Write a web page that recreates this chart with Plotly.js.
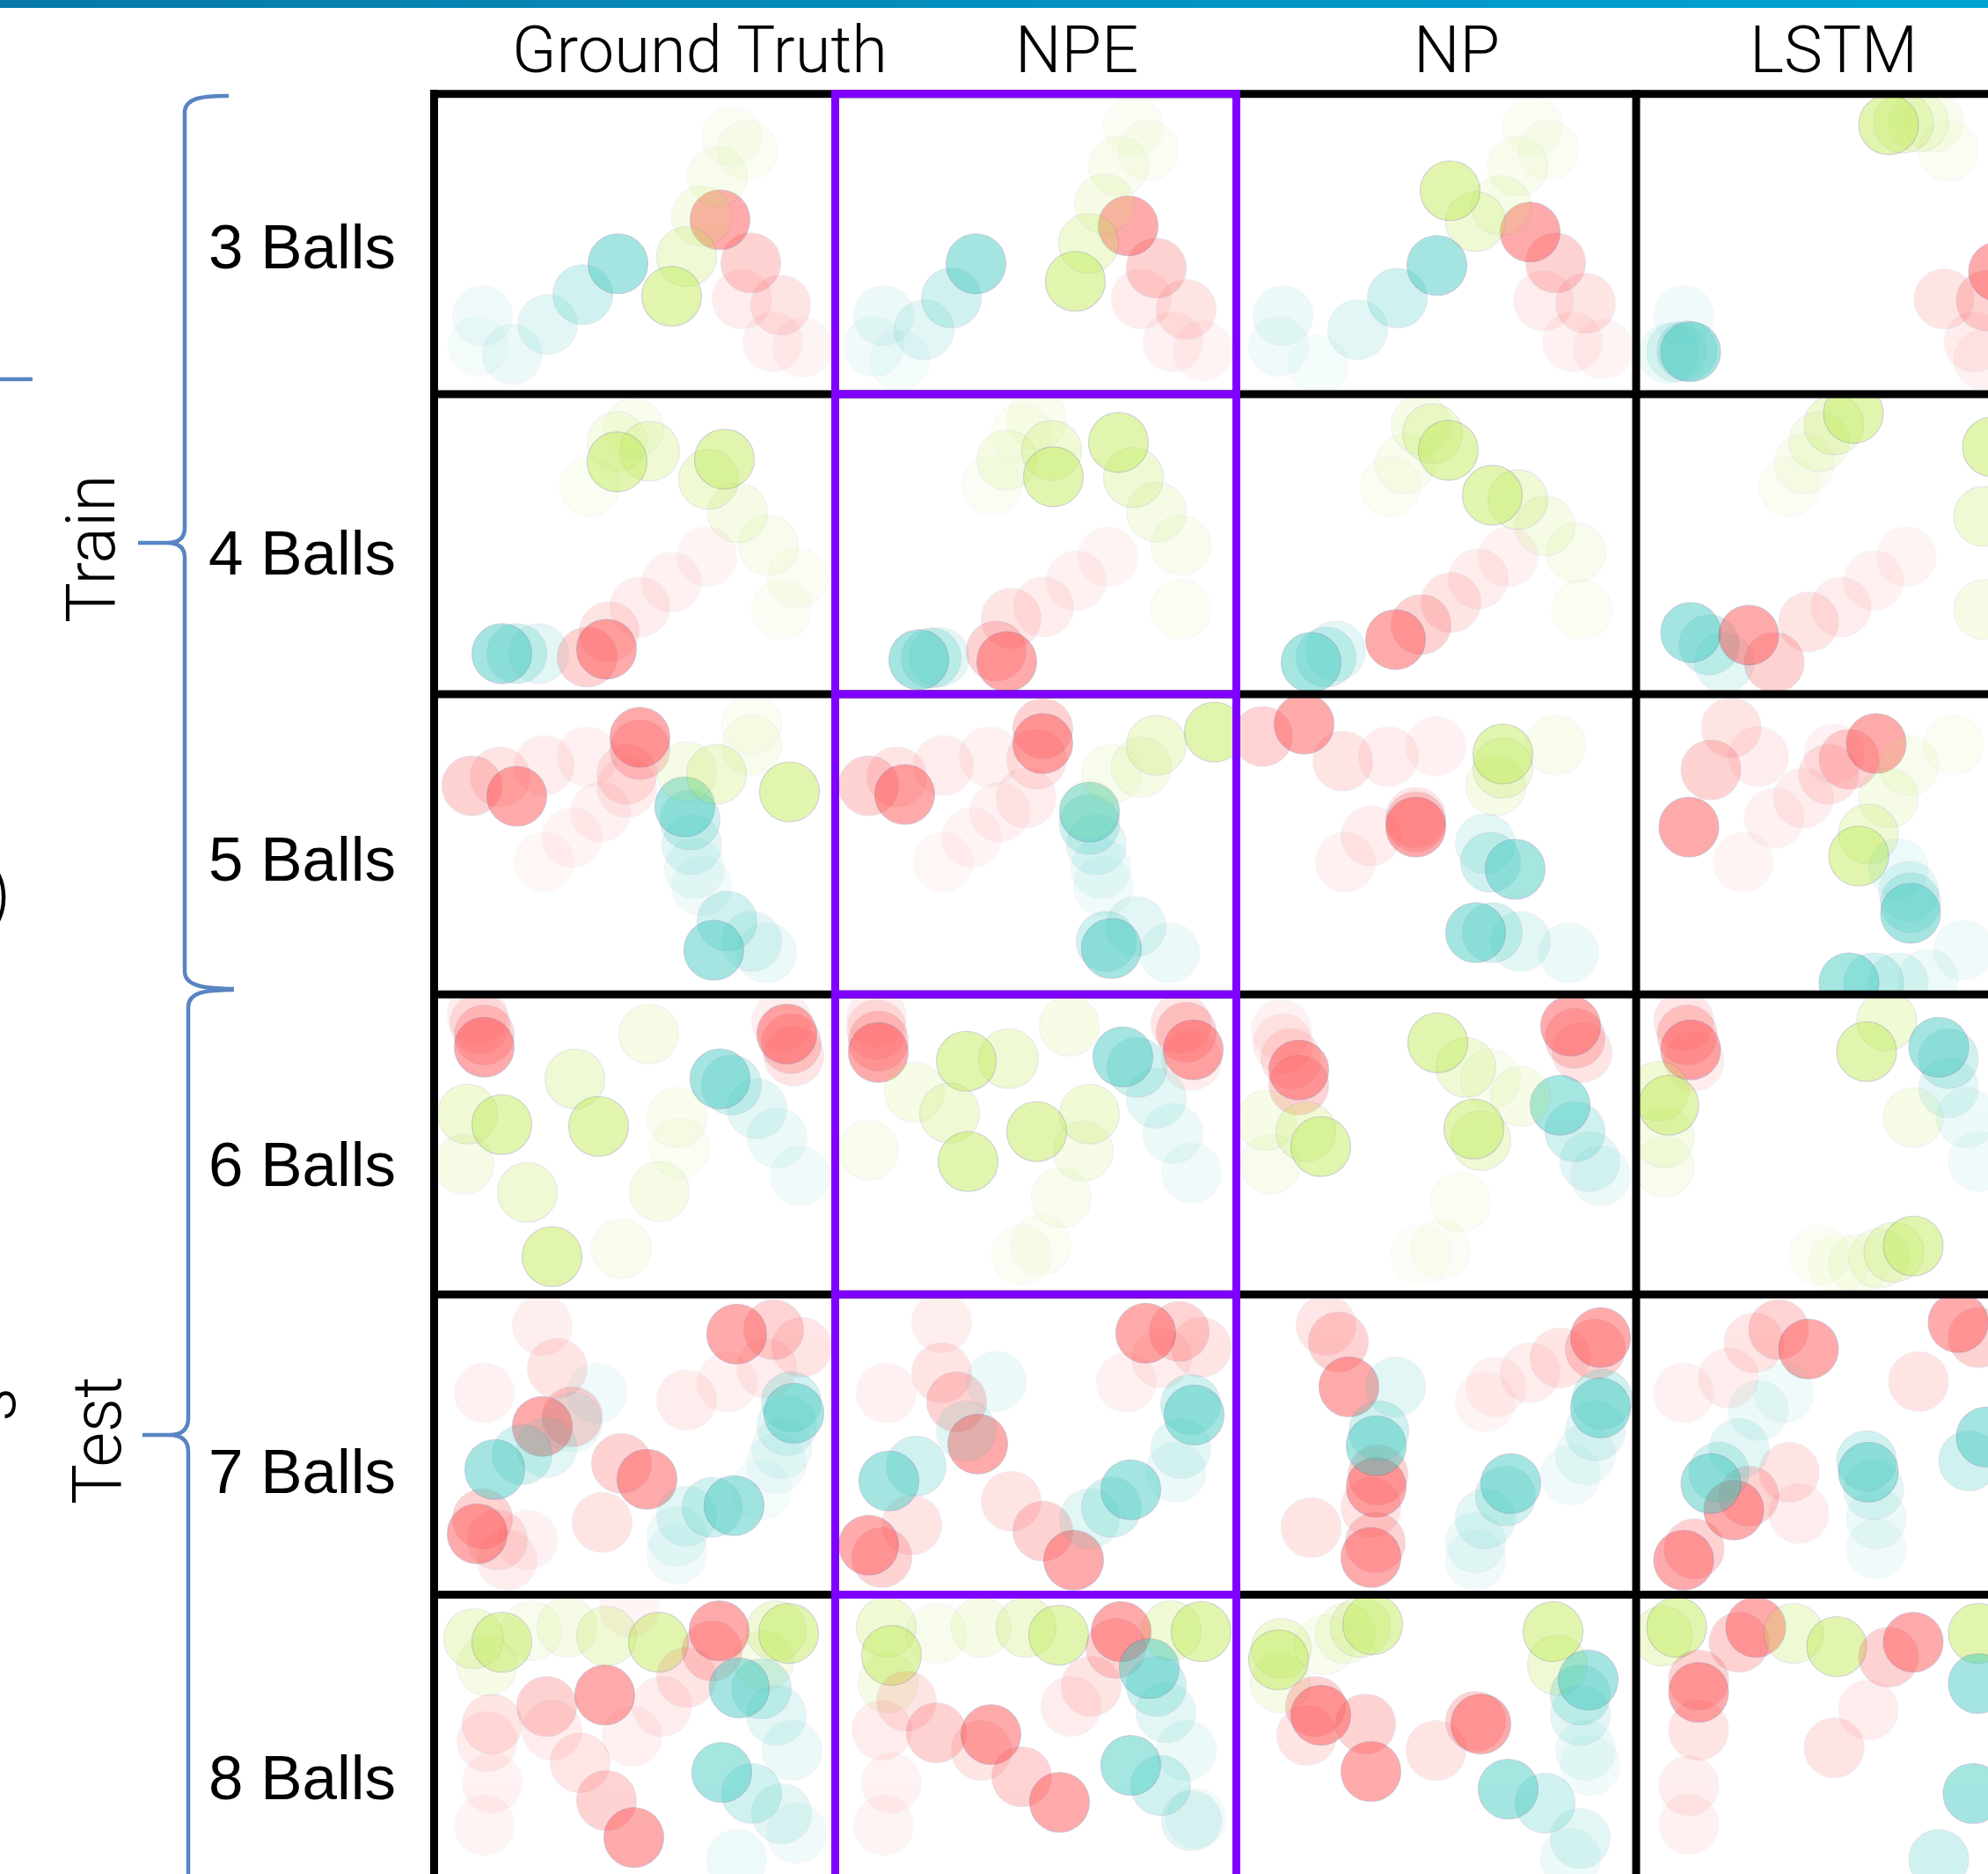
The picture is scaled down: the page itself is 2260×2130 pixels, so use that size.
<!DOCTYPE html>
<html>
<head>
<meta charset="utf-8">
<script src="https://cdn.plot.ly/plotly-3.0.1.min.js"></script>
<style>html,body{margin:0;padding:0;background:#fff;overflow:hidden}</style>
</head>
<body>
<div id="chart" style="width:2260px;height:2130px"></div>
<script>
// ---------- labels ----------
const methods = ['Ground Truth', 'NPE', 'NP', 'LSTM'];
const ballCounts = ['3 Balls', '4 Balls', '5 Balls', '6 Balls', '7 Balls', '8 Balls'];
const splits = ['Train', 'Test'];

// ---------- trajectories ----------
// Each trail: [ball type, x positions, y positions] in cell pixels, earliest step first.
// ball type: r = red, t = teal, g = green
const gt3 = [
  ['t', [50, 55, 89, 129, 169, 209], [287, 252, 296, 262, 228, 193]],
  ['r', [419, 385, 350, 394, 360, 325], [288, 282, 233, 240, 192, 143]],
  ['g', [338, 356, 322, 304, 287, 270], [48, 64, 94, 139, 185, 230]]
];
const npe3 = [
  ['t', [73, 44, 55, 101, 132, 160], [303, 287, 252, 268, 232, 193]],
  ['r', [418, 384, 348, 399, 365, 333], [292, 282, 233, 245, 198, 150]],
  ['g', [339, 356, 322, 306, 288, 273], [37, 64, 82, 125, 170, 213]]
];
const np3 = [
  ['t', [93, 48, 53, 138, 183, 228], [308, 287, 252, 268, 232, 195]],
  ['r', [417, 382, 349, 397, 363, 334], [290, 282, 235, 238, 192, 157]],
  ['g', [337, 355, 320, 301, 272, 243], [37, 64, 82, 127, 145, 110]]
];
const lstm3 = [
  ['t', [54, 37, 46, 58, 62], [252, 295, 293, 292, 293]],
  ['g', [355, 338, 321, 304, 287], [65, 32, 32, 33, 35]],
  ['r', [395, 384, 350, 398, 412], [302, 282, 233, 235, 202]]
];

const gt4 = [
  ['t', [119, 94, 77], [295, 295, 295]],
  ['r', [310, 270, 234, 199, 174, 196], [185, 214, 242, 270, 299, 290]],
  ['g', [177, 227, 208, 245, 208], [105, 39, 54, 65, 77]],
  ['g', [395, 413, 380, 345, 312, 330], [245, 209, 172, 135, 97, 74]]
];
const npe4 = [
  ['t', [118, 109, 95], [299, 300, 302]],
  ['r', [310, 274, 237, 200, 183, 195], [185, 212, 242, 255, 292, 304]],
  ['g', [178, 212, 229, 195, 246, 248], [104, 45, 29, 75, 64, 94]],
  ['g', [393, 393, 365, 339, 322], [245, 172, 134, 95, 55]]
];
const np4 = [
  ['t', [113, 102, 85], [292, 299, 305]],
  ['r', [309, 275, 244, 210, 181], [185, 210, 237, 262, 279]],
  ['g', [175, 192, 210, 223, 241], [105, 79, 35, 45, 64]],
  ['g', [393, 386, 351, 320, 291], [245, 180, 150, 120, 115]]
];
const lstm4 = [
  ['t', [100, 83, 62], [305, 285, 271]],
  ['r', [307, 270, 233, 196, 157, 128], [185, 212, 242, 259, 305, 274]],
  ['g', [174, 191, 208, 225, 247], [105, 79, 54, 35, 22]],
  ['g', [395, 395, 405], [245, 139, 60]]
];

const gt5 = [
  ['r', [174, 125, 75, 43, 94], [71, 81, 94, 104, 116]],
  ['r', [125, 157, 189, 219, 219, 234, 234], [191, 163, 134, 106, 91, 63, 49]],
  ['t', [304, 296, 293, 291, 285], [218, 198, 171, 143, 128]],
  ['t', [378, 361, 333, 318], [294, 281, 258, 291]],
  ['g', [361, 361, 287, 321, 404], [34, 58, 88, 91, 111]]
];
const npe5 = [
  ['r', [175, 123, 70, 38, 79], [71, 81, 94, 104, 114]],
  ['r', [123, 155, 187, 217, 229, 236, 236], [191, 163, 134, 118, 74, 39, 56]],
  ['t', [305, 302, 297, 289, 289], [218, 198, 171, 148, 134]],
  ['t', [380, 342, 308, 314], [294, 264, 281, 289]],
  ['g', [289, 314, 348, 365, 431], [131, 91, 83, 58, 43]]
];
const np5 = [
  ['r', [227, 173, 121, 30, 77], [59, 71, 76, 48, 34]],
  ['r', [124, 153, 204, 204, 204], [191, 161, 140, 145, 151]],
  ['t', [283, 289, 317], [170, 191, 199]],
  ['t', [378, 323, 291, 272], [294, 281, 271, 271]],
  ['g', [363, 295, 303, 303], [58, 104, 84, 68]]
];
const lstm5 = [
  ['r', [122, 157, 190, 219, 242, 273], [191, 141, 118, 91, 74, 56]],
  ['r', [225, 139, 108, 85, 60], [68, 71, 38, 86, 151]],
  ['g', [361, 310, 287, 264, 253], [58, 81, 118, 159, 184]],
  ['t', [298, 310, 312, 312], [198, 224, 237, 249]],
  ['t', [372, 332, 298, 270, 242], [291, 324, 328, 328, 328]]
];

const gt6 = [
  ['r', [49, 52, 57, 57], [23, 33, 46, 60]],
  ['r', [395, 409, 406, 401], [31, 70, 56, 45]],
  ['t', [416, 390, 367, 338, 325], [206, 163, 130, 103, 96]],
  ['g', [34, 38, 77], [193, 136, 148]],
  ['g', [279, 276, 244, 160, 187], [175, 140, 45, 96, 150]],
  ['g', [213, 256, 106, 134], [289, 224, 225, 298]]
];
const npe6 = [
  ['r', [47, 47, 49, 49], [26, 40, 53, 66]],
  ['r', [405, 393, 399, 407], [75, 33, 43, 63]],
  ['t', [405, 384, 365, 343, 327], [203, 158, 118, 83, 71]],
  ['g', [266, 197, 149], [36, 73, 76]],
  ['g', [38, 90, 130, 151], [177, 111, 135, 190]],
  ['g', [212, 234, 257, 282, 289, 229], [296, 285, 231, 178, 136, 156]]
];
const np6 = [
  ['r', [51, 53, 62, 71, 71], [40, 56, 73, 103, 86]],
  ['r', [393, 385, 380], [66, 50, 36]],
  ['t', [414, 402, 385, 368], [206, 190, 156, 126]],
  ['g', [39, 34, 79, 96], [193, 143, 156, 173]],
  ['g', [261, 229], [83, 55]],
  ['g', [210, 232, 255, 289, 323, 278, 270], [296, 290, 236, 96, 116, 166, 153]]
];
const lstm6 = [
  ['r', [66, 54, 58, 62], [76, 30, 46, 63]],
  ['g', [32, 32, 26, 37], [196, 163, 110, 126]],
  ['g', [315, 285, 262], [140, 30, 65]],
  ['t', [389, 375, 355, 355, 344], [190, 140, 106, 73, 60]],
  ['g', [208, 230, 253, 276, 293, 315], [296, 306, 306, 300, 293, 286]]
];

const gt7 = [
  ['r', [333, 378, 418, 386, 344], [100, 84, 60, 40, 45]],
  ['r', [57, 123, 140, 157, 123], [112, 35, 84, 139, 150]],
  ['r', [287, 191, 213, 242], [120, 259, 192, 210]],
  ['r', [106, 83, 72, 55, 49], [279, 302, 279, 255, 272]],
  ['t', [372, 389, 395, 401, 406, 409], [222, 192, 175, 149, 122, 135]],
  ['t', [185, 157, 128, 100, 69], [112, 145, 174, 182, 199]],
  ['t', [276, 276, 287, 316, 341], [295, 275, 252, 242, 240]]
];
const npe7 = [
  ['r', [331, 371, 416, 391, 353], [100, 72, 60, 42, 44]],
  ['r', [58, 121, 121, 138, 162], [112, 32, 89, 122, 170]],
  ['r', [200, 236, 271], [235, 269, 302]],
  ['r', [87, 53, 38], [262, 299, 285]],
  ['t', [387, 393, 404, 408], [202, 175, 125, 137]],
  ['t', [183, 149, 92, 61], [99, 155, 195, 212]],
  ['t', [289, 314, 336], [255, 242, 222]]
];
const np7 = [
  ['r', [283, 295, 334, 368, 408, 414], [122, 105, 89, 72, 62, 49]],
  ['r', [102, 116, 128], [35, 54, 105]],
  ['r', [153, 161, 159], [242, 205, 219]],
  ['r', [85, 158, 153], [265, 282, 299]],
  ['t', [380, 397, 408, 416, 414], [205, 182, 155, 119, 129]],
  ['t', [181, 162, 159], [105, 155, 172]],
  ['t', [272, 272, 283, 306, 312], [302, 282, 255, 229, 215]]
];
const lstm7 = [
  ['r', [54, 105, 134, 162, 196], [112, 95, 55, 40, 62]],
  ['r', [321, 389, 366], [99, 49, 32]],
  ['r', [185, 174, 128, 111], [249, 202, 229, 245]],
  ['r', [66, 54], [289, 302]],
  ['t', [168, 139, 117, 94, 85], [112, 132, 175, 202, 215]],
  ['t', [273, 273, 270, 262, 264], [289, 255, 222, 189, 202]],
  ['t', [378, 398], [189, 162]]
];

const gt8 = [
  ['g', [60, 45, 77], [81, 50, 54]],
  ['g', [111, 151, 196, 255], [41, 37, 47, 54]],
  ['g', [375, 389, 403], [75, 41, 44]],
  ['r', [222, 225, 259, 287, 316, 324], [14, 161, 127, 94, 64, 41]],
  ['r', [57, 66, 60, 66, 128, 194], [262, 214, 167, 147, 127, 114]],
  ['r', [134, 166, 196, 227], [154, 191, 234, 276]],
  ['t', [412, 407, 389, 372, 347], [271, 177, 137, 107, 106]],
  ['t', [344, 395, 361, 327], [301, 249, 226, 202]]
];
const npe8 = [
  ['g', [60, 58, 64], [100, 37, 69]],
  ['g', [115, 166, 217, 254], [44, 37, 37, 46]],
  ['g', [382, 416], [41, 42]],
  ['r', [268, 291, 319, 325], [127, 104, 61, 42]],
  ['t', [410, 399, 376, 365, 357], [254, 177, 134, 104, 84]],
  ['r', [55, 64, 53, 81, 115, 177], [262, 214, 154, 121, 157, 159]],
  ['r', [166, 212, 255], [177, 207, 236]],
  ['t', [405, 370, 336], [257, 217, 194]]
];
const np8 = [
  ['g', [50, 51, 48], [100, 61, 74]],
  ['g', [100, 124, 141, 155], [57, 44, 37, 34]],
  ['g', [365, 360], [80, 42]],
  ['r', [80, 90, 96], [160, 127, 137]],
  ['r', [147, 153], [147, 201]],
  ['r', [227, 272, 278], [177, 144, 147]],
  ['t', [402, 397, 391, 391, 400], [194, 177, 137, 114, 97]],
  ['t', [380, 391, 351, 309], [300, 277, 237, 221]]
];
const lstm8 = [
  ['g', [30, 46], [47, 37]],
  ['r', [117, 136], [54, 37]],
  ['g', [179, 228], [44, 59]],
  ['r', [60, 60, 71, 71, 71], [261, 217, 154, 97, 111]],
  ['r', [264, 225, 287, 315], [131, 174, 71, 54]],
  ['g', [389], [44]],
  ['t', [389], [101]],
  ['t', [344, 383], [301, 226]]
];

const grid = [
  [gt3, npe3, np3, lstm3],
  [gt4, npe4, np4, lstm4],
  [gt5, npe5, np5, lstm5],
  [gt6, npe6, np6, lstm6],
  [gt7, npe7, np7, lstm7],
  [gt8, npe8, np8, lstm8]
];

// ---------- page geometry ----------
const W = 2260, H = 2130;
const colX = [493.5, 949.5, 1405.5, 1860];           // cell border centres (x)
const rowY = [106.7, 447.9, 789, 1130.2, 1471.3, 1812.5]; // cell border centres (y)
const cellW = 456, cellH = 341.2;
const px = x => x / W;
const py = y => 1 - y / H;
const P = (x, y) => `${px(x)},${py(y)}`;

const ballColor = { r: 'rgb(255,72,72)', t: 'rgb(60,200,190)', g: 'rgb(190,234,80)' };
// opacity by age: latest step first
const stepAlpha = [0.46, 0.24, 0.14, 0.095, 0.07, 0.055, 0.045, 0.04];

const traces = [];
const layout = {
  width: W, height: H,
  margin: { l: 0, r: 0, t: 0, b: 0, pad: 0 },
  paper_bgcolor: '#ffffff', plot_bgcolor: 'rgba(0,0,0,0)',
  showlegend: false, hovermode: false,
  shapes: [], annotations: []
};

grid.forEach((row, r) => row.forEach((trails, c) => {
  const k = r * 4 + c + 1;
  const sx = k > 1 ? String(k) : '';
  const x0 = colX[c], x1 = Math.min(colX[c] + cellW, W);
  const y0 = rowY[r], y1 = Math.min(rowY[r] + cellH, H);
  layout['xaxis' + sx] = { domain: [px(x0), px(x1)], range: [0, x1 - x0], visible: false, fixedrange: true, anchor: 'y' + sx };
  layout['yaxis' + sx] = { domain: [py(y1), py(y0)], range: [y1 - y0, 0], visible: false, fixedrange: true, anchor: 'x' + sx };
  trails.forEach(([kind, xs, ys]) => {
    const n = xs.length;
    traces.push({
      type: 'scatter', mode: 'markers', x: xs, y: ys,
      xaxis: 'x' + sx, yaxis: 'y' + sx,
      cliponaxis: true, hoverinfo: 'skip', showlegend: false,
      marker: {
        size: 68, color: ballColor[kind],
        opacity: xs.map((_, i) => stepAlpha[Math.min(n - 1 - i, stepAlpha.length - 1)]),
        line: { width: 1.1, color: 'rgba(80,80,140,0.55)' }
      }
    });
  });
}));

// ---------- decorations ----------
const shapes = layout.shapes;
// gradient strip along the top edge
const barSteps = 60;
for (let i = 0; i < barSteps; i++) {
  const t = i / (barSteps - 1);
  const cr = Math.round(8 + (0 - 8) * t), cg = Math.round(122 + (165 - 122) * t), cb = Math.round(168 + (212 - 168) * t);
  shapes.push({ type: 'rect', xref: 'paper', yref: 'paper', layer: 'above',
    x0: px(i * W / barSteps), x1: px(Math.min((i + 1) * W / barSteps + 1, W)), y0: py(9), y1: py(0),
    fillcolor: `rgb(${cr},${cg},${cb})`, line: { width: 0 } });
}
// cell borders
rowY.forEach(y => shapes.push({ type: 'line', xref: 'paper', yref: 'paper', layer: 'above',
  x0: px(489), x1: px(W), y0: py(y), y1: py(y), line: { color: '#000', width: 9 } }));
colX.forEach(x => shapes.push({ type: 'line', xref: 'paper', yref: 'paper', layer: 'above',
  x0: px(x), x1: px(x), y0: py(rowY[0] - 4.5), y1: py(H), line: { color: '#000', width: 9 } }));
// highlighted NPE column
const hl = '#8000ff';
[colX[1], colX[2]].forEach(x => shapes.push({ type: 'line', xref: 'paper', yref: 'paper', layer: 'above',
  x0: px(x), x1: px(x), y0: py(rowY[0] - 4.5), y1: py(H), line: { color: hl, width: 9 } }));
rowY.forEach(y => shapes.push({ type: 'line', xref: 'paper', yref: 'paper', layer: 'above',
  x0: px(colX[1] - 4.5), x1: px(colX[2] + 4.5), y0: py(y), y1: py(y), line: { color: hl, width: 9 } }));

// braces
const braceColor = 'rgb(88,132,194)';
const trainBrace = `M${P(260,109)} C${P(234,109)} ${P(210,110)} ${P(210,128)} L${P(210,600)} C${P(210,612)} ${P(203,617)} ${P(190,617)} L${P(157,617)} M${P(190,617)} C${P(203,617)} ${P(210,622)} ${P(210,634)} L${P(210,1104)} C${P(210,1120)} ${P(230,1124)} ${P(266,1124)}`;
const testBrace = `M${P(266,1125)} C${P(232,1125)} ${P(214,1128)} ${P(214,1145)} L${P(214,1612)} C${P(214,1626)} ${P(205,1631)} ${P(192,1631)} L${P(162,1631)} M${P(192,1631)} C${P(205,1631)} ${P(214,1636)} ${P(214,1650)} L${P(214,2140)}`;
[trainBrace, testBrace].forEach(path => shapes.push({ type: 'path', xref: 'paper', yref: 'paper', layer: 'above',
  path, line: { color: braceColor, width: 4.5 } }));
shapes.push({ type: 'line', xref: 'paper', yref: 'paper', layer: 'above',
  x0: px(-2), x1: px(37), y0: py(431), y1: py(431), line: { color: braceColor, width: 4.5 } });

// ---------- text ----------
const ann = layout.annotations;
const headFont = { family: 'Roboto, Lato, sans-serif', size: 74, weight: 300, color: '#000' };
const headX = [795, 1224, 1656, 2084];
methods.forEach((m, i) => ann.push({ text: m, xref: 'paper', yref: 'paper', x: px(headX[i]), y: py(57),
  xanchor: 'center', yanchor: 'middle', showarrow: false, font: headFont }));

const labelFont = { family: 'Liberation Sans, Arial, sans-serif', size: 71, color: '#000' };
const labelY = [281, 628, 976, 1323, 1672, 2020];
ballCounts.forEach((b, i) => ann.push({ text: b, xref: 'paper', yref: 'paper', x: px(235), y: py(labelY[i]),
  xanchor: 'left', yanchor: 'middle', showarrow: false, font: labelFont }));

const splitFont = { family: 'Roboto, Lato, sans-serif', size: 77, weight: 300, color: '#000' };
const splitPos = [[104, 624], [111, 1637]];
splits.forEach((s, i) => ann.push({ text: s, xref: 'paper', yref: 'paper', x: px(splitPos[i][0]), y: py(splitPos[i][1]),
  xanchor: 'center', yanchor: 'middle', textangle: -90, showarrow: false, font: splitFont }));

// pieces of neighbouring text at the left edge
ann.push({ text: ')', xref: 'paper', yref: 'paper', x: px(14), y: py(1016), xanchor: 'right', yanchor: 'middle',
  showarrow: false, font: splitFont });
ann.push({ text: 's', xref: 'paper', yref: 'paper', x: px(-9), y: py(1597), xanchor: 'center', yanchor: 'middle',
  textangle: -90, showarrow: false, font: splitFont });

Plotly.newPlot('chart', traces, layout, { staticPlot: true, displayModeBar: false });
</script>
</body>
</html>
